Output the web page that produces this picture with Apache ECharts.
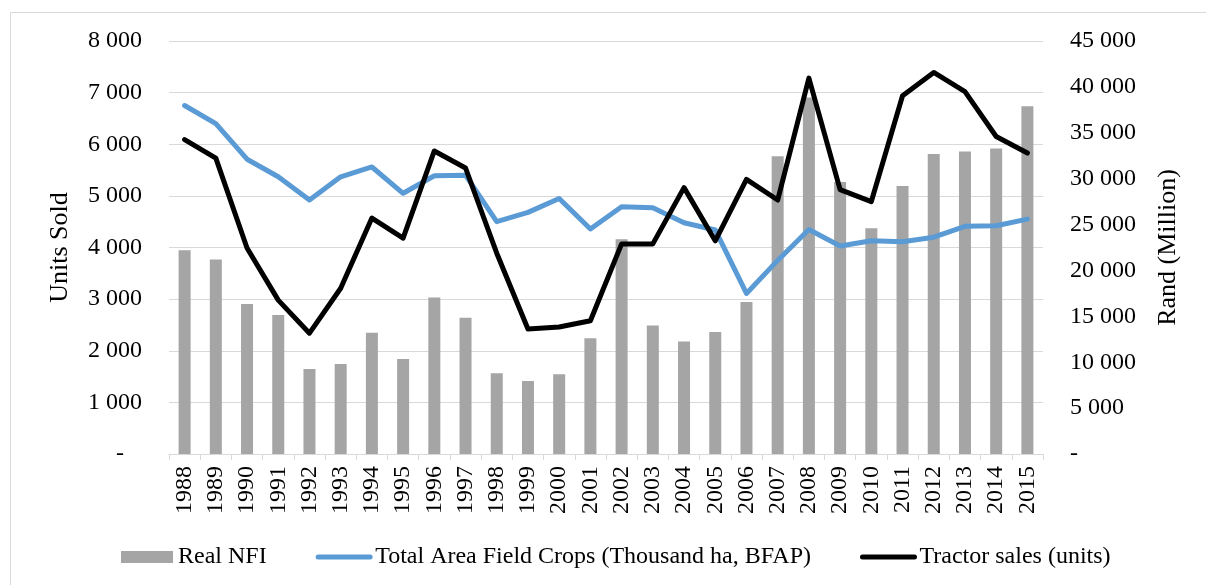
<!DOCTYPE html>
<html>
<head>
<meta charset="utf-8">
<script src="https://cdn.jsdelivr.net/npm/echarts@6/dist/echarts.min.js"></script>
<style>
html,body{margin:0;padding:0;background:#fff;}
#chart{width:1206px;height:585px;}
</style>
</head>
<body>
<div id="chart"></div>
<script>
const years = ['1988','1989','1990','1991','1992','1993','1994','1995','1996','1997','1998','1999','2000','2001','2002','2003','2004','2005','2006','2007','2008','2009','2010','2011','2012','2013','2014','2015'];
// Real NFI (Rand million, right axis)
const realNFI = [22200,21200,16350,15150,9250,9800,13200,10350,17050,14850,8800,7950,8700,12600,23400,14000,12250,13300,16550,32450,38850,29650,24600,29200,32700,32950,33300,37900];
// Total Area Field Crops (Thousand ha, BFAP) (left axis)
const fieldCrops = [6750,6400,5710,5370,4920,5370,5560,5050,5390,5400,4500,4680,4950,4360,4790,4770,4480,4340,3110,3750,4350,4030,4130,4110,4200,4410,4420,4550];
// Tractor sales (units) (left axis)
const tractorSales = [6090,5730,3990,2980,2340,3210,4570,4180,5870,5540,3890,2420,2460,2580,4070,4070,5160,4130,5320,4920,7280,5120,4890,6940,7390,7020,6150,5830];
const seriesNames = ['Real NFI','Total Area Field Crops (Thousand ha, BFAP)','Tractor sales (units)'];

const FONT = '"Liberation Serif","Times New Roman",serif';
function fmt(v){
  if (v === 0) return '-';
  return String(v).replace(/\B(?=(\d{3})+(?!\d))/g,' ');
}
const chart = echarts.init(document.getElementById('chart'), null, {renderer:'canvas'});
chart.setOption({
  backgroundColor:'#fff',
  animation:false,
  textStyle:{fontFamily:FONT,color:'#000'},
  graphic:[{type:'rect',shape:{x:10.5,y:12.5,width:1300,height:700},style:{fill:'none',stroke:'#d9d9d9',lineWidth:1},silent:true}],
  grid:{left:169,right:163,top:41,bottom:131,containLabel:false},
  legend:{
    left:116, top:540, itemGap:49, itemWidth:52, itemHeight:12,
    textStyle:{fontFamily:FONT,fontSize:24,color:'#000'},
    data:[
      {name:seriesNames[0],icon:'rect'},
      {name:seriesNames[1],itemStyle:{opacity:0},lineStyle:{width:5,cap:'round',color:'#5b9bd5'}},
      {name:seriesNames[2],itemStyle:{opacity:0},lineStyle:{width:5,cap:'round',color:'#000000'}}
    ]
  },
  xAxis:{
    type:'category', data:years, boundaryGap:true,
    axisLine:{lineStyle:{color:'#d9d9d9',width:1}},
    axisTick:{show:true,length:6,lineStyle:{color:'#d9d9d9'}},
    axisLabel:{rotate:90,interval:0,margin:12,fontFamily:FONT,fontSize:24,color:'#000'},
    splitLine:{show:false}
  },
  yAxis:[
    {type:'value',min:0,max:8000,interval:1000,position:'left',
     name:'Units Sold',nameLocation:'middle',nameGap:96,nameRotate:90,
     nameTextStyle:{fontFamily:FONT,fontSize:26,color:'#000'},
     axisLine:{show:false},axisTick:{show:false},
     axisLabel:{margin:27,fontFamily:FONT,fontSize:24,color:'#000',
       formatter:function(v){return v===0?'-\u00a0\u00a0\u00a0':fmt(v);}},
     splitLine:{show:true,lineStyle:{color:'#d9d9d9',width:1}}},
    {type:'value',min:0,max:45000,interval:5000,position:'right',
     name:'Rand (Million)',nameLocation:'middle',nameGap:112,nameRotate:90,
     nameTextStyle:{fontFamily:FONT,fontSize:26,color:'#000'},
     axisLine:{show:false},axisTick:{show:false},
     axisLabel:{margin:27,fontFamily:FONT,fontSize:24,color:'#000',formatter:fmt},
     splitLine:{show:false}}
  ],
  series:[
    {name:seriesNames[0],type:'bar',yAxisIndex:1,data:realNFI,barWidth:12,
     itemStyle:{color:'#a5a5a5'}},
    {name:seriesNames[1],type:'line',yAxisIndex:0,data:fieldCrops,symbol:'none',
     lineStyle:{color:'#5b9bd5',width:5,join:'round',cap:'round'},itemStyle:{color:'#5b9bd5'}},
    {name:seriesNames[2],type:'line',yAxisIndex:0,data:tractorSales,symbol:'none',
     lineStyle:{color:'#000000',width:5,join:'round',cap:'round'},itemStyle:{color:'#000000'}}
  ]
});
</script>
</body>
</html>
